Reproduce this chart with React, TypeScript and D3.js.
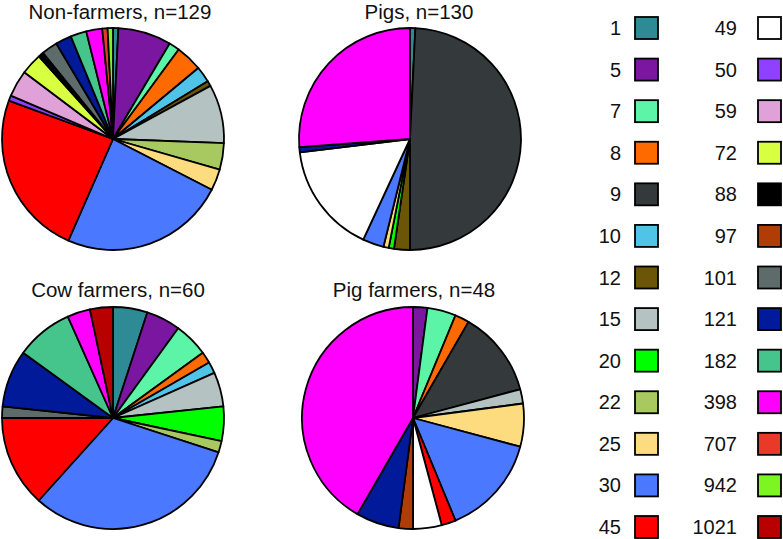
import React, { useEffect, useRef } from 'react'
import * as d3 from 'd3'

// legend categories (in pie order, clockwise from 12 o'clock)
const categories = ['1', '5', '7', '8', '9', '10', '12', '15', '20', '22', '25', '30', '45',
  '49', '50', '59', '72', '88', '97', '101', '121', '182', '398', '707', '942', '1021']

const colors = ['#2e8b96', '#7a16a0', '#5cf5a8', '#ff6a00', '#343a3c', '#4fc3e8', '#6b5506',
  '#b4c2c2', '#00ff00', '#a8c860', '#fddc80', '#4a78ff', '#ff0000', '#ffffff', '#9040ff',
  '#e0a0d8', '#d8ff40', '#000000', '#b03c06', '#5e6b6b', '#001a9a', '#45c48c', '#ff00ff',
  '#e83a26', '#7cf520', '#b80000']

// counts per category, same order as categories
const nonFarmers = [1, 10, 2, 5, 0, 3, 1, 11, 0, 5, 4, 31, 31, 0, 1, 5, 4, 1, 0, 3, 3, 3, 3, 1, 1, 0]
const pigs = [1, 0, 0, 0, 64, 0, 3, 0, 1, 0, 1, 4, 0, 21, 0, 0, 0, 0, 0, 0, 1, 0, 34, 0, 0, 0]
const cowFarmers = [3, 3, 3, 1, 0, 1, 0, 3, 3, 1, 0, 19, 8, 0, 0, 0, 0, 0, 0, 1, 5, 5, 2, 0, 0, 2]
const pigFarmers = [0, 1, 2, 1, 6, 0, 0, 1, 0, 0, 3, 7, 1, 2, 0, 0, 0, 0, 1, 0, 3, 0, 20, 0, 0, 0]

const titles = ['Non-farmers, n=129', 'Pigs, n=130', 'Cow farmers, n=60', 'Pig farmers, n=48']

const App = () => {
  const node = useRef<SVGSVGElement>(null)

  useEffect(() => {
    const svg = d3.select(node.current)
    svg.selectAll('*').remove()

    const groups = [
      { values: nonFarmers, cx: 113, cy: 139, tx: 120, ty: 19 },
      { values: pigs, cx: 410, cy: 139, tx: 419, ty: 19 },
      { values: cowFarmers, cx: 113, cy: 418, tx: 118, ty: 297 },
      { values: pigFarmers, cx: 413, cy: 418, tx: 414, ty: 297 },
    ]
    const radius = 111

    const pie = d3.pie<number>().sort(null).value(d => d)
    const arc = d3.arc<d3.PieArcDatum<number>>().innerRadius(0).outerRadius(radius)

    groups.forEach((g, gi) => {
      const gEl = svg.append('g').attr('transform', 'translate(' + g.cx + ',' + g.cy + ')')
      gEl.selectAll('path')
        .data(pie(g.values).filter(d => d.value > 0))
        .enter()
        .append('path')
        .attr('d', arc)
        .attr('fill', d => colors[d.index])
        .attr('stroke', '#000')
        .attr('stroke-width', 1.8)
        .attr('stroke-linejoin', 'round')

      svg.append('text')
        .attr('x', g.tx)
        .attr('y', g.ty)
        .attr('text-anchor', 'middle')
        .attr('font-family', 'Liberation Sans, Arial, sans-serif')
        .attr('font-size', 20.5)
        .attr('fill', '#111')
        .text(titles[gi])
    })

    // legend, two columns of 13
    const rowY = d3.scaleLinear().domain([0, 12]).range([28, 527])
    const legend = svg.append('g')
    categories.forEach((c, i) => {
      const col = Math.floor(i / 13)
      const row = i % 13
      const labelX = col === 0 ? 621 : 737
      const boxX = col === 0 ? 635 : 758
      const y = rowY(row)
      legend.append('text')
        .attr('x', labelX)
        .attr('y', y + 7)
        .attr('text-anchor', 'end')
        .attr('font-family', 'Liberation Sans, Arial, sans-serif')
        .attr('font-size', 20)
        .attr('fill', '#111')
        .text(c)
      legend.append('rect')
        .attr('x', boxX)
        .attr('y', y - 11)
        .attr('width', 23)
        .attr('height', 22)
        .attr('fill', colors[i])
        .attr('stroke', '#000')
        .attr('stroke-width', 1.8)
    })
  }, [])

  return (
    <svg ref={node} width={783} height={539}
      style={{ position: 'absolute', left: 0, top: 0, background: '#fff' }} />
  )
}

export default App
